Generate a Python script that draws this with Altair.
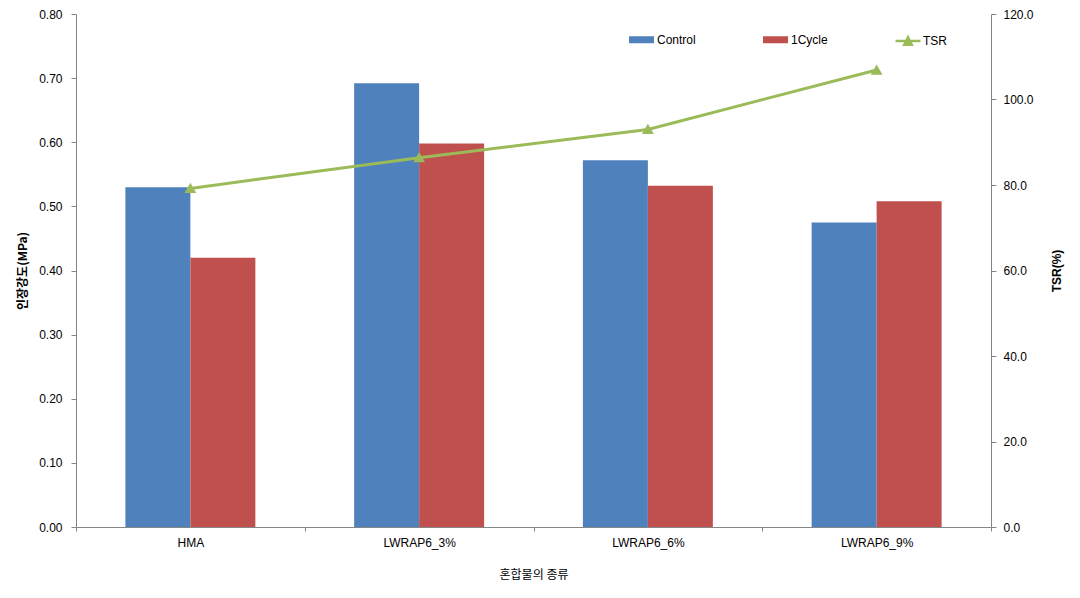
import altair as alt
import pandas as pd

categories = ["HMA", "LWRAP6_3%", "LWRAP6_6%", "LWRAP6_9%"]
control = [0.53, 0.692, 0.572, 0.475]
cycle1 = [0.42, 0.598, 0.532, 0.508]
tsr = [79.2, 86.4, 93.0, 106.9]
series = ["Control", "1Cycle"]
bar_colors = ["#4F81BD", "#C0504D"]
line_color = "#9BBB59"
left_ticks = [0, 0.1, 0.2, 0.3, 0.4, 0.5, 0.6, 0.7, 0.8]
right_ticks = [0, 20, 40, 60, 80, 100, 120]

rows = []
for c, a, b in zip(categories, control, cycle1):
    rows.append({"cat": c, "series": "Control", "val": a})
    rows.append({"cat": c, "series": "1Cycle", "val": b})
bars_df = pd.DataFrame(rows)
line_df = pd.DataFrame({"cat": categories, "tsr": tsr, "s": ["TSR"] * 4})

FONT = "Liberation Sans"
KFONT = "Noto Sans CJK KR"
AXIS_COLOR = "#868686"

xenc = alt.X(
    "cat:N",
    sort=categories,
    scale=alt.Scale(paddingInner=0, paddingOuter=0),
    axis=alt.Axis(
        title="혼합물의 종류",
        titleFont=KFONT,
        titleFontWeight="normal",
        titleFontSize=12,
        titleColor="#000000",
        titlePadding=21,
        labelAngle=0,
        labelFont=FONT,
        labelFontSize=12,
        labelColor="#000000",
        labelPadding=6,
        tickBand="extent",
        tickSize=4,
        tickColor=AXIS_COLOR,
        domainColor=AXIS_COLOR,
        grid=False,
    ),
)

bars = alt.Chart(bars_df).mark_bar().encode(
    x=xenc,
    xOffset=alt.XOffset(
        "series:N",
        sort=series,
        scale=alt.Scale(domain=series, paddingInner=0, paddingOuter=0.76),
    ),
    y=alt.Y(
        "val:Q",
        scale=alt.Scale(domain=[0, 0.8], nice=False),
        axis=alt.Axis(
            title="인장강도(MPa)",
            titleFont=KFONT,
            titleFontWeight="bold",
            titleFontSize=12,
            titleColor="#000000",
            titlePadding=9,
            values=left_ticks,
            format=".2f",
            labelFont=FONT,
            labelFontSize=12,
            labelColor="#000000",
            labelPadding=9,
            tickSize=5,
            tickColor=AXIS_COLOR,
            domainColor=AXIS_COLOR,
            grid=False,
        ),
    ),
    color=alt.Color(
        "series:N",
        sort=series,
        scale=alt.Scale(domain=series, range=bar_colors),
        legend=alt.Legend(
            title=None,
            orient="none",
            legendX=553,
            legendY=13,
            direction="horizontal",
            columns=2,
            columnPadding=67,
            symbolType="M-1,-0.28H1V0.28H-1Z",
            symbolSize=625,
            symbolStrokeWidth=0,
            labelFont=FONT,
            labelFontSize=12,
            labelColor="#000000",
            labelOffset=3,
        ),
    ),
)

line = alt.Chart(line_df).mark_line(
    strokeWidth=3,
    point=alt.OverlayMarkDef(shape="triangle-up", filled=True, size=70, color=line_color),
).encode(
    x=alt.X("cat:N", sort=categories),
    y=alt.Y(
        "tsr:Q",
        scale=alt.Scale(domain=[0, 120], nice=False),
        axis=alt.Axis(
            orient="right",
            title="TSR(%)",
            titleFont=FONT,
            titleFontWeight="bold",
            titleFontSize=12,
            titleColor="#000000",
            titleAngle=270,
            titlePadding=30,
            values=right_ticks,
            format=".1f",
            labelFont=FONT,
            labelFontSize=12,
            labelColor="#000000",
            labelPadding=7,
            tickSize=5,
            tickColor=AXIS_COLOR,
            domainColor=AXIS_COLOR,
            grid=False,
        ),
    ),
    stroke=alt.Stroke(
        "s:N",
        scale=alt.Scale(domain=["TSR"], range=[line_color]),
        legend=alt.Legend(
            title=None,
            orient="none",
            legendX=818,
            legendY=13,
            symbolType="M-1,0H1M-0.3,0.3L0,-0.3L0.3,0.3Z",
            symbolSize=625,
            symbolStrokeWidth=2.5,
            symbolFillColor=line_color,
            labelFont=FONT,
            labelFontSize=12,
            labelColor="#000000",
            labelOffset=1,
        ),
    ),
)

chart = (
    alt.layer(bars, line)
    .resolve_scale(y="independent")
    .properties(
        width=915,
        height=513,
        autosize=alt.AutoSizeParams(type="none"),
        padding={"left": 76, "top": 14, "right": 89, "bottom": 71},
        background="#FFFFFF",
    )
    .configure_view(stroke=None)
)

chart.save("out.html", embed_options={"renderer": "svg", "actions": False})
